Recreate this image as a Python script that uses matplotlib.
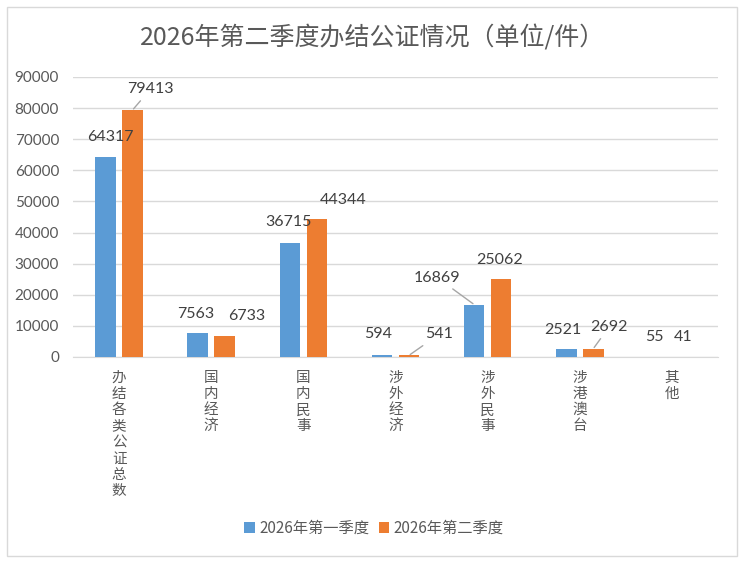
import numpy as np
import matplotlib.pyplot as plt
from matplotlib.patches import Rectangle

plt.rcParams['font.family'] = ['Noto Sans CJK SC', 'DejaVu Sans']

# data
categories = ["办结各类公证总数", "国内经济", "国内民事", "涉外经济", "涉外民事", "涉港澳台", "其他"]
q1 = [64317, 7563, 36715, 594, 16869, 2521, 55]
q2 = [79413, 6733, 44344, 541, 25062, 2692, 41]
series_names = ["2026年第一季度", "2026年第二季度"]
title = "2026年第二季度办结公证情况（单位/件）"

# label offsets in pixels (dx, dy) from bar top, and whether a leader line is drawn
q1_offsets = [(5, 20), (-2, 19), (-1, 21), (-4, 21), (-37, 27), (-3, 19), (-4, 20)]
q2_offsets = [(18, 21), (22, 20), (26, 19), (30, 21), (-2, 19), (16, 22), (-2, 20)]
q1_leader = [False, False, False, False, True, False, False]
q2_leader = [True, False, False, True, False, True, False]

BLUE = "#5b9bd5"
ORANGE = "#ed7d31"
TXT = "#595959"
GRID = "#d9d9d9"
NUM_FONT = ["Lato", "DejaVu Sans"]

fig = plt.figure(figsize=(7.45, 5.63), dpi=100)
ax = fig.add_axes([73 / 745, 1 - 357 / 563, 645 / 745, 280 / 563])

# outer border
fig.patches.append(Rectangle((7 / 745, 7 / 563), 730 / 745, 549 / 563, transform=fig.transFigure,
                             fill=False, edgecolor=GRID, linewidth=1))

x = np.arange(len(categories))
w = 0.223
off = 0.147
b1 = ax.bar(x - off, q1, w, color=BLUE, label=series_names[0], zorder=3)
b2 = ax.bar(x + off, q2, w, color=ORANGE, label=series_names[1], zorder=3)

ax.set_xlim(-0.5, len(categories) - 0.5)
ax.set_ylim(0, 90000)
ax.set_yticks(np.arange(0, 90001, 10000))
ax.yaxis.grid(True, color=GRID, linewidth=1, zorder=0)
ax.set_axisbelow(True)
for s in ["left", "right", "top"]:
    ax.spines[s].set_visible(False)
ax.spines["bottom"].set_color(GRID)
ax.tick_params(axis="y", length=0, pad=10, labelcolor=TXT)
ax.tick_params(axis="x", length=0, pad=10, labelcolor=TXT)
for lab in ax.get_yticklabels():
    lab.set_family(NUM_FONT)
    lab.set_fontsize(11)

ax.set_xticks(x)
ax.set_xticklabels(["\n".join(c) for c in categories], fontsize=10.5, color=TXT,
                   va="top", linespacing=1.2)


def label_bars(xs, vals, offsets, leaders):
    for xi, v, (dx, dy), ld in zip(xs, vals, offsets, leaders):
        props = None
        if ld:
            props = dict(arrowstyle="-", color="#a6a6a6", lw=1, shrinkA=2, shrinkB=1)
        ax.annotate(str(v), xy=(xi, v), xytext=(dx, dy), textcoords="offset pixels",
                    ha="center", va="center", fontsize=11.5, color="#404040",
                    family=NUM_FONT, arrowprops=props, zorder=4)


label_bars(x - off, q1, q1_offsets, q1_leader)
label_bars(x + off, q2, q2_offsets, q2_leader)

fig.suptitle(title, y=1 - 38 / 563, va="center", fontsize=18, color=TXT)

leg = fig.legend(loc="center", bbox_to_anchor=(374 / 745, 1 - 528 / 563), ncol=2, frameon=False,
                 fontsize=11, handlelength=0.7, handleheight=0.7, handletextpad=0.3,
                 columnspacing=0.6)
for t in leg.get_texts():
    t.set_color(TXT)

fig.savefig("out.png", dpi=100)
